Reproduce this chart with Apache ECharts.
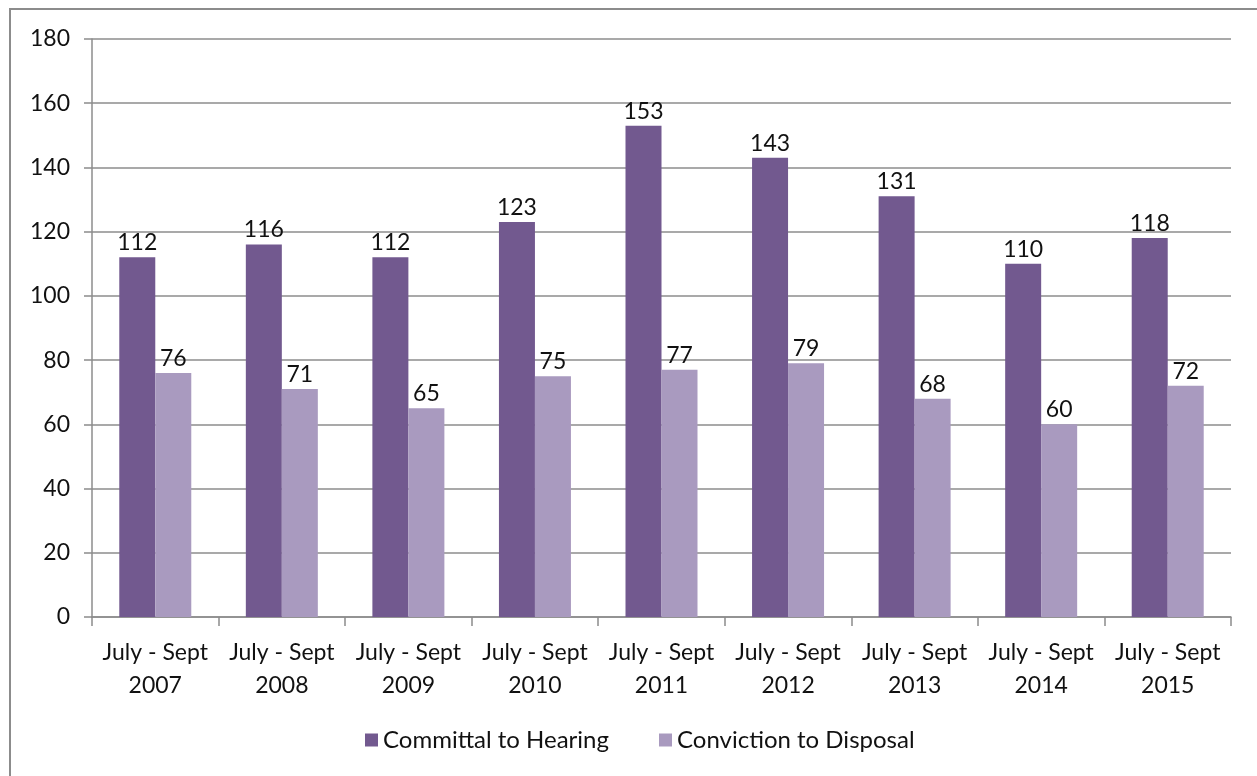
<!DOCTYPE html>
<html><head><meta charset="utf-8">
<script src="https://cdn.jsdelivr.net/npm/echarts@6/dist/echarts.min.js"></script>
<style>html,body{margin:0;padding:0;background:#fff;}#c{width:1257px;height:776px;}
#frame{position:absolute;left:9px;top:8px;width:1300px;height:800px;border:2px solid #8c8c8c;box-sizing:border-box;pointer-events:none;}</style>
</head><body><div id="c"></div><div id="frame"></div>
<script>
const categories = ['July - Sept\n2007','July - Sept\n2008','July - Sept\n2009','July - Sept\n2010','July - Sept\n2011','July - Sept\n2012','July - Sept\n2013','July - Sept\n2014','July - Sept\n2015'];
const committalToHearing = [112,116,112,123,153,143,131,110,118];
const convictionToDisposal = [76,71,65,75,77,79,68,60,72];
const yTicks = {min:0,max:180,interval:20};
const font = 'Lato, "Open Sans", sans-serif';
const chart = echarts.init(document.getElementById('c'));
chart.setOption({
  animation:false,
  textStyle:{fontFamily:font},
  grid:{left:92,right:26,top:39,bottom:159,containLabel:false},
  legend:{bottom:19,left:360,itemWidth:13,itemHeight:13,itemGap:50,icon:'rect',
    textStyle:{fontSize:24,color:'#111',fontFamily:font},data:['Committal to Hearing','Conviction to Disposal']},
  xAxis:{type:'category',data:categories,
    axisLine:{lineStyle:{color:'#8c8c8c',width:1.5}},
    axisTick:{show:true,length:9,alignWithLabel:false,lineStyle:{color:'#8c8c8c',width:1.5}},
    axisLabel:{fontSize:23,color:'#111',lineHeight:33,margin:19,interval:0,fontFamily:font}},
  yAxis:{type:'value',min:yTicks.min,max:yTicks.max,interval:yTicks.interval,
    axisLine:{show:true,lineStyle:{color:'#8c8c8c',width:1.5}},
    axisTick:{show:true,length:8,lineStyle:{color:'#8c8c8c',width:1.5}},
    splitLine:{lineStyle:{color:'#8c8c8c',width:1.5}},
    axisLabel:{fontSize:23,color:'#111',margin:22,fontFamily:font}},
  series:[
    {name:'Committal to Hearing',type:'bar',data:committalToHearing,barWidth:36,barGap:'0%',barCategoryGap:'43%',
     itemStyle:{color:'#72598f'},
     label:{show:true,position:'top',fontSize:23,color:'#111',distance:3,fontFamily:font}},
    {name:'Conviction to Disposal',type:'bar',data:convictionToDisposal,barWidth:36,barGap:'0%',
     itemStyle:{color:'#a99abf'},
     label:{show:true,position:'top',fontSize:23,color:'#111',distance:3,fontFamily:font}}
  ]
});
</script></body></html>
